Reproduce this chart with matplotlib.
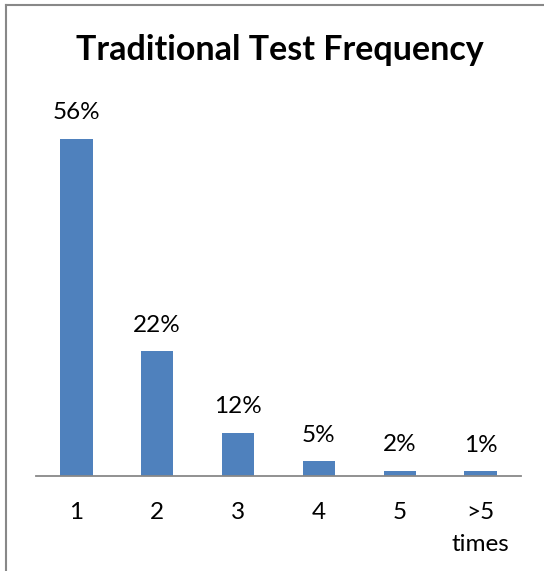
import matplotlib
matplotlib.use("Agg")
import matplotlib.pyplot as plt
from matplotlib.lines import Line2D

categories = ["1", "2", "3", "4", "5", ">5\ntimes"]
values = [56.0, 20.75, 7.2, 2.45, 0.9, 0.75]
labels = ["56%", "22%", "12%", "5%", "2%", "1%"]

W, H = 544, 571
fig = plt.figure(figsize=(W / 100, H / 100), dpi=100)
plt.rcParams['font.family'] = ['Lato', 'DejaVu Sans']

left, right = 36 / W, 521 / W
bottom = (H - 476) / H
top_px = 100
ax = fig.add_axes([left, bottom, right - left, (476 - top_px) / H])

x = list(range(len(categories)))
ax.bar(x, values, width=0.4, color="#4F81BD", zorder=2)
ax.set_xlim(-0.5, len(categories) - 0.5)
ymax = 56.0 * (476 - top_px) / 337.3
ax.set_ylim(0, ymax)

for xi, v, lab in zip(x, values, labels):
    ax.annotate(lab, (xi, v), xytext=(0, 26), textcoords='offset pixels',
                ha='center', va='center', fontsize=17.5, color='#000000')

ax.set_xticks(x)
ax.set_xticklabels(categories, fontsize=17.5, linespacing=1.6)
ax.tick_params(axis='x', length=0, pad=19)
ax.set_yticks([])
for s in ['top', 'right', 'left']:
    ax.spines[s].set_visible(False)
ax.spines['bottom'].set_color('#888888')
ax.spines['bottom'].set_linewidth(1.3)

fig.text(280 / W, 1 - 50 / H, "Traditional Test Frequency", ha='center', va='center',
         fontsize=24.5, fontweight='bold', color='#000000')

# outer frame (partially cropped)
fig.add_artist(Line2D([6 / W, 6 / W], [0, 1 - 5 / H], color='#888888', lw=1.5,
                      transform=fig.transFigure))
fig.add_artist(Line2D([6 / W, 543 / W], [1 - 5 / H, 1 - 5 / H], color='#888888', lw=1.5,
                      transform=fig.transFigure))

fig.savefig("out.png", dpi=100)
